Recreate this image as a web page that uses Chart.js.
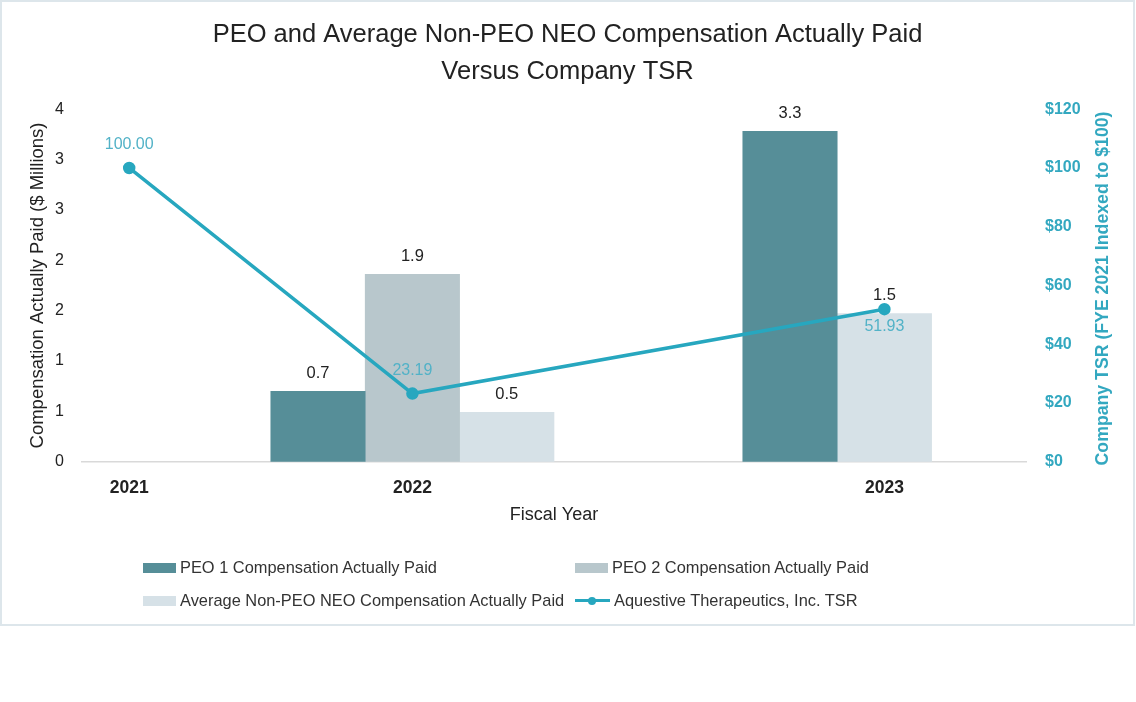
<!DOCTYPE html>
<html lang="en">
<head>
    <meta charset="UTF-8">
    <title>PEO and Average Non-PEO NEO Compensation Actually Paid Versus Company TSR</title>
    <script src="https://cdn.jsdelivr.net/npm/chart.js"></script>
    <style>
        body {
            margin: 0;
            background: #fff;
            font-family: "Liberation Sans", Arial, sans-serif;
        }
        #frame {
            position: absolute;
            left: 0;
            top: 0;
            width: 1135px;
            height: 626px;
            box-sizing: border-box;
            border: 2px solid #dde6eb;
        }
        #chartBox {
            position: absolute;
            left: 0;
            top: 0;
            width: 1131px;
            height: 622px;
        }
        #legend {
            position: absolute;
            left: 141px;
            top: 549px;
            display: grid;
            grid-template-columns: 432px auto;
            font-size: 16.4px;
            color: #333;
        }
        .item {
            display: flex;
            align-items: center;
            height: 33px;
            white-space: nowrap;
        }
        .swatch {
            width: 33px;
            height: 10px;
            margin-right: 4px;
        }
        .lineSwatch {
            position: relative;
            width: 35px;
            height: 10px;
            margin-right: 4px;
        }
        .lineSwatch .bar {
            position: absolute;
            left: 0;
            right: 0;
            top: 3.5px;
            height: 3px;
        }
        .lineSwatch .dot {
            position: absolute;
            left: 13px;
            top: 1px;
            width: 8px;
            height: 8px;
            border-radius: 50%;
        }
    </style>
</head>
<body>
    <div id="frame">
        <div id="chartBox"><canvas id="capChart"></canvas></div>
        <div id="legend"></div>
    </div>

    <script>
        // values
        const years = ['2021', '2022', '2023'];
        const peo1Cap = [null, 0.70, 3.28];   // $ millions
        const peo2Cap = [null, 1.86, null];
        const neoCap = [null, 0.49, 1.47];
        const tsr = [100.00, 23.19, 51.93];   // indexed to $100

        const compTicks = [0, 0.5, 1, 1.5, 2, 2.5, 3, 3.5];
        const compTickLabels = ['0', '1', '1', '2', '2', '3', '3', '4'];
        const tsrTicks = [0, 20, 40, 60, 80, 100, 120];

        // layout: the x axis is cut into equal slots, one bar per slot
        const slotCount = 10;
        const yearSlot = [0, 3, 8];     // year label and TSR point
        const groupStart = [0, 2, 7];   // first bar of each year's cluster
        const tsrLabelSide = ['above', 'above', 'below'];

        const font = '"Liberation Sans", Arial, sans-serif';
        const teal = '#27a7bf';

        // place the bars of each year next to each other, skipping empty series
        const barSeries = [peo1Cap, peo2Cap, neoCap];
        const barPoints = barSeries.map(() => []);
        years.forEach((y, i) => {
            let slot = groupStart[i];
            barSeries.forEach((series, s) => {
                if (series[i] === null) return;
                barPoints[s].push({ x: slot, y: series[i] });
                slot++;
            });
        });
        const tsrPoints = tsr.map((v, i) => ({ x: yearSlot[i], y: v }));

        const valueLabels = {
            id: 'valueLabels',
            afterDatasetsDraw(chart) {
                const ctx = chart.ctx;
                ctx.save();
                ctx.textAlign = 'center';
                ctx.textBaseline = 'middle';
                chart.data.datasets.forEach((ds, i) => {
                    const meta = chart.getDatasetMeta(i);
                    meta.data.forEach((el, j) => {
                        const v = ds.data[j].y;
                        if (ds.type === 'line') {
                            ctx.font = '16px ' + font;
                            ctx.fillStyle = '#52b2c7';
                            const dy = tsrLabelSide[j] === 'below' ? 17 : -23;
                            ctx.fillText(v.toFixed(2), el.x, el.y + dy);
                        } else {
                            ctx.font = '16.5px ' + font;
                            ctx.fillStyle = '#222';
                            ctx.fillText(v.toFixed(1), el.x, el.y - 18);
                        }
                    });
                });
                ctx.restore();
            }
        };

        // right axis title reads bottom-to-top like the left one
        const rightTitle = {
            id: 'rightTitle',
            afterDraw(chart, args, opts) {
                const s = chart.scales.yTsr;
                const ctx = chart.ctx;
                ctx.save();
                ctx.translate(s.right - 15, (chart.chartArea.top + chart.chartArea.bottom) / 2 + 3);
                ctx.rotate(-Math.PI / 2);
                ctx.font = 'bold 17.7px ' + font;
                ctx.fillStyle = opts.color;
                ctx.textAlign = 'center';
                ctx.textBaseline = 'middle';
                ctx.fillText(opts.text, 0, 0);
                ctx.restore();
            }
        };

        const chart = new Chart(document.getElementById('capChart'), {
            type: 'bar',
            data: {
                datasets: [
                    {
                        label: 'PEO 1 Compensation Actually Paid',
                        data: barPoints[0],
                        backgroundColor: '#568e98',
                        yAxisID: 'yComp',
                        order: 1
                    },
                    {
                        label: 'PEO 2 Compensation Actually Paid',
                        data: barPoints[1],
                        backgroundColor: '#b8c7cc',
                        yAxisID: 'yComp',
                        order: 1
                    },
                    {
                        label: 'Average Non-PEO NEO Compensation Actually Paid',
                        data: barPoints[2],
                        backgroundColor: '#d6e1e7',
                        yAxisID: 'yComp',
                        order: 1
                    },
                    {
                        type: 'line',
                        label: 'Aquestive Therapeutics, Inc. TSR',
                        data: tsrPoints,
                        yAxisID: 'yTsr',
                        borderColor: teal,
                        backgroundColor: teal,
                        borderWidth: 3.5,
                        pointRadius: 4.5,
                        pointHoverRadius: 4.5,
                        order: 0
                    }
                ]
            },
            options: {
                responsive: true,
                maintainAspectRatio: false,
                animation: false,
                datasets: {
                    bar: {
                        grouped: false,
                        categoryPercentage: 1,
                        barPercentage: 1,
                        borderWidth: 0
                    }
                },
                layout: {
                    padding: { left: 15, right: 15, top: 0, bottom: 98.2 }
                },
                plugins: {
                    legend: { display: false },
                    tooltip: { enabled: false },
                    title: {
                        display: true,
                        text: ['PEO and Average Non-PEO NEO Compensation Actually Paid', 'Versus Company TSR'],
                        color: '#222',
                        font: { family: font, size: 25.5, weight: 'normal', lineHeight: 1.45 },
                        padding: { top: 14.5, bottom: 18.8 }
                    },
                    rightTitle: {
                        text: 'Company TSR (FYE 2021 Indexed to $100)',
                        color: '#33a8c0'
                    }
                },
                scales: {
                    x: {
                        type: 'linear',
                        offset: false,
                        min: -0.5,
                        max: slotCount - 0.5,
                        afterBuildTicks: (scale) => {
                            scale.ticks = yearSlot.map(v => ({ value: v }));
                        },
                        afterFit: (scale) => { scale.height = 64.1; },
                        ticks: {
                            autoSkip: false,
                            maxRotation: 0,
                            padding: 16,
                            color: '#222',
                            font: { family: font, size: 17.5, weight: 'bold' },
                            callback: (value) => years[yearSlot.indexOf(value)]
                        },
                        grid: { display: false, drawTicks: false },
                        border: { display: true, color: '#d9d9d9', width: 1.5 },
                        title: {
                            display: true,
                            text: 'Fiscal Year',
                            color: '#222',
                            font: { family: font, size: 18 },
                            padding: { top: 0, bottom: 0 }
                        }
                    },
                    yComp: {
                        position: 'left',
                        min: 0,
                        max: 3.5,
                        afterBuildTicks: (scale) => {
                            scale.ticks = compTicks.map(v => ({ value: v }));
                        },
                        afterFit: (scale) => { scale.width = 65; },
                        ticks: {
                            padding: 18,
                            color: '#222',
                            font: { family: font, size: 16 },
                            callback: (value, i) => compTickLabels[i]
                        },
                        grid: { display: false, drawTicks: false },
                        border: { display: false },
                        title: {
                            display: true,
                            text: 'Compensation Actually Paid ($ Millions)',
                            color: '#222',
                            font: { family: font, size: 18.5 },
                            padding: { top: 9.9, bottom: 0 }
                        }
                    },
                    yTsr: {
                        position: 'right',
                        min: 0,
                        max: 120,
                        afterBuildTicks: (scale) => {
                            scale.ticks = tsrTicks.map(v => ({ value: v }));
                        },
                        afterFit: (scale) => { scale.width = 92; },
                        ticks: {
                            padding: 19,
                            color: '#33a8c0',
                            font: { family: font, size: 16, weight: 'bold' },
                            callback: (value) => '$' + value
                        },
                        grid: { display: false, drawTicks: false },
                        border: { display: false }
                    }
                }
            },
            plugins: [valueLabels, rightTitle]
        });

        // two-column legend under the chart, built from the chart's own legend items
        const legendBox = document.getElementById('legend');
        Chart.defaults.plugins.legend.labels.generateLabels(chart)
            .sort((a, b) => a.datasetIndex - b.datasetIndex)
            .forEach(item => {
                const ds = chart.data.datasets[item.datasetIndex];
                const row = document.createElement('div');
                row.className = 'item';
                const mark = document.createElement('span');
                if (ds.type === 'line') {
                    mark.className = 'lineSwatch';
                    mark.innerHTML = '<span class="bar"></span><span class="dot"></span>';
                    mark.querySelector('.bar').style.background = ds.borderColor;
                    mark.querySelector('.dot').style.background = ds.borderColor;
                } else {
                    mark.className = 'swatch';
                    mark.style.background = item.fillStyle;
                }
                const text = document.createElement('span');
                text.textContent = item.text;
                row.appendChild(mark);
                row.appendChild(text);
                legendBox.appendChild(row);
            });
    </script>
</body>
</html>
